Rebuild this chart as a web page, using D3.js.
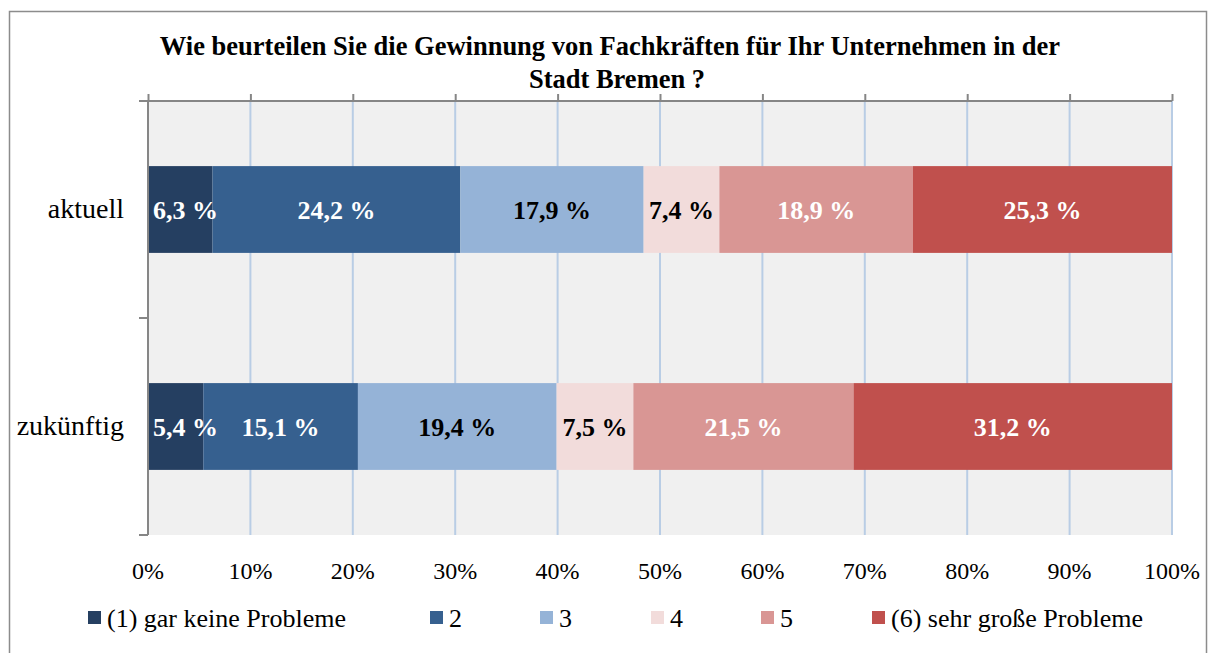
<!DOCTYPE html>
<html>
<head>
<meta charset="utf-8">
<script src="https://cdn.jsdelivr.net/npm/d3@7"></script>
<style>
  body { margin: 0; background: #fff; }
  svg { font-family: "Liberation Serif", "Times New Roman", serif; }
</style>
</head>
<body>
<div class="chart"></div>
<script>
// Kategorien und Werte (in %)
const categories = ["aktuell", "zukünftig"]
const seriesNames = ["(1) gar keine Probleme", "2", "3", "4", "5", "(6) sehr große Probleme"]
const aktuell = [6.3, 24.2, 17.9, 7.4, 18.9, 25.3]
const zukuenftig = [5.4, 15.1, 19.4, 7.5, 21.5, 31.2]
const ticks = [0, 10, 20, 30, 40, 50, 60, 70, 80, 90, 100]
const colors = ["#253f61", "#36608f", "#95b3d7", "#f2dcdb", "#d99694", "#c0504d"]
const labelColors = ["#fff", "#fff", "#000", "#000", "#fff", "#fff"]
const titleLines = [
  "Wie beurteilen Sie die Gewinnung von Fachkräften für Ihr Unternehmen in der",
  "Stadt Bremen ?",
]

const config = {
  width: 1214,
  height: 653,
  plot: { left: 148, right: 1172, top: 101, bottom: 535 },
}

const rows = [aktuell, zukuenftig]

const svg = d3.select(".chart").append("svg")
  .attr("width", config.width)
  .attr("height", config.height)

// Rahmen
svg.append("rect")
  .attr("x", 9.5).attr("y", 11.5)
  .attr("width", 1197).attr("height", 660)
  .attr("fill", "#fff")
  .attr("stroke", "#8c8c8c")
  .attr("stroke-width", 1.5)

const p = config.plot

// Skalen
const scaleX = d3.scaleLinear().domain([0, 100]).range([p.left, p.right]).clamp(true)
const scaleY = d3.scaleBand().domain(categories).range([p.top, p.bottom])
  .paddingInner(0.6).paddingOuter(0.3)

// Plotbereich
svg.append("rect")
  .attr("x", p.left).attr("y", p.top)
  .attr("width", p.right - p.left).attr("height", p.bottom - p.top)
  .attr("fill", "#f0f0f0")

// Gitterlinien
svg.append("g")
  .selectAll("line")
  .data(ticks.filter((d) => d > 0))
  .join("line")
  .attr("x1", (d) => scaleX(d)).attr("x2", (d) => scaleX(d))
  .attr("y1", p.top).attr("y2", p.bottom)
  .attr("stroke", "#b9cde5")
  .attr("stroke-width", 2)

// Balken
const stacks = rows.map((vals, i) => {
  let acc = 0
  return vals.map((v, j) => {
    const seg = { cat: categories[i], idx: j, v, x0: acc, x1: acc + v }
    acc += v
    return seg
  })
})

const barG = svg.append("g")
stacks.forEach((segs) => {
  barG.selectAll(null)
    .data(segs)
    .join("rect")
    .attr("x", (d) => scaleX(d.x0))
    .attr("y", (d) => scaleY(d.cat))
    .attr("width", (d) => scaleX(d.x1) - scaleX(d.x0))
    .attr("height", scaleY.bandwidth())
    .attr("fill", (d) => colors[d.idx])
})

// Datenbeschriftungen (am linken Rand nach innen geschoben)
stacks.forEach((segs) => {
  barG.selectAll(null)
    .data(segs)
    .join("text")
    .attr("y", (d) => scaleY(d.cat) + scaleY.bandwidth() / 2 + 9)
    .attr("text-anchor", "middle")
    .attr("font-size", 26)
    .attr("font-weight", "bold")
    .attr("fill", (d) => labelColors[d.idx])
    .text((d) => d3.format(".1f")(d.v).replace(".", ",") + " %")
    .attr("x", function (d) {
      const cx = (scaleX(d.x0) + scaleX(d.x1)) / 2
      const w = this.getComputedTextLength()
      return Math.max(cx, p.left + 5 + w / 2)
    })
})

// obere Achse (Linie mit Teilstrichen)
const topAxis = svg.append("g")
  .attr("transform", `translate(0,${p.top})`)
  .call(d3.axisTop(scaleX).tickValues(ticks).tickSize(7).tickFormat("").tickSizeOuter(0))
topAxis.select(".domain").attr("stroke", "#868686").attr("stroke-width", 2)
  .attr("d", `M${p.left - 9},0H${p.right}`)
topAxis.selectAll(".tick line").attr("stroke", "#868686").attr("stroke-width", 2)

// Kategorieachse
const leftAxis = svg.append("g")
  .attr("transform", `translate(${p.left},0)`)
  .call(d3.axisLeft(scaleY).tickSize(0).tickPadding(24).tickSizeOuter(0))
leftAxis.select(".domain").attr("stroke", "#868686").attr("stroke-width", 2)
  .attr("d", `M0,${p.top}V${p.bottom}`)
leftAxis.selectAll("text")
  .attr("font-size", 28)
  .attr("font-family", "Liberation Serif")
  .attr("fill", "#000")
  .attr("dy", "0.3em")

// Teilstriche zwischen Kategorien
svg.append("g")
  .selectAll("line")
  .data([p.top, (p.top + p.bottom) / 2, p.bottom])
  .join("line")
  .attr("x1", p.left - 9).attr("x2", p.left)
  .attr("y1", (d) => d).attr("y2", (d) => d)
  .attr("stroke", "#868686")
  .attr("stroke-width", 2)

// untere Beschriftung
svg.append("g")
  .selectAll("text")
  .data(ticks)
  .join("text")
  .attr("x", (d) => scaleX(d))
  .attr("y", 579)
  .attr("text-anchor", "middle")
  .attr("font-size", 24)
  .text((d) => d + "%")

// Titel
const titleX = [610, 617]
svg.append("g")
  .selectAll("text")
  .data(titleLines)
  .join("text")
  .attr("x", (d, i) => titleX[i])
  .attr("y", (d, i) => 55 + i * 33)
  .attr("text-anchor", "middle")
  .attr("font-size", 26.5)
  .attr("font-weight", "bold")
  .text((d) => d)

// Legende
const legendX = [88, 430, 540, 651, 761, 872]
const legend = svg.append("g")
  .selectAll("g")
  .data(seriesNames)
  .join("g")
  .attr("transform", (d, i) => `translate(${legendX[i]},611)`)
legend.append("rect")
  .attr("width", 13).attr("height", 13)
  .attr("fill", (d, i) => colors[i])
legend.append("text")
  .attr("x", 19).attr("y", 16)
  .attr("font-size", 26)
  .text((d) => d)
</script>
</body>
</html>
